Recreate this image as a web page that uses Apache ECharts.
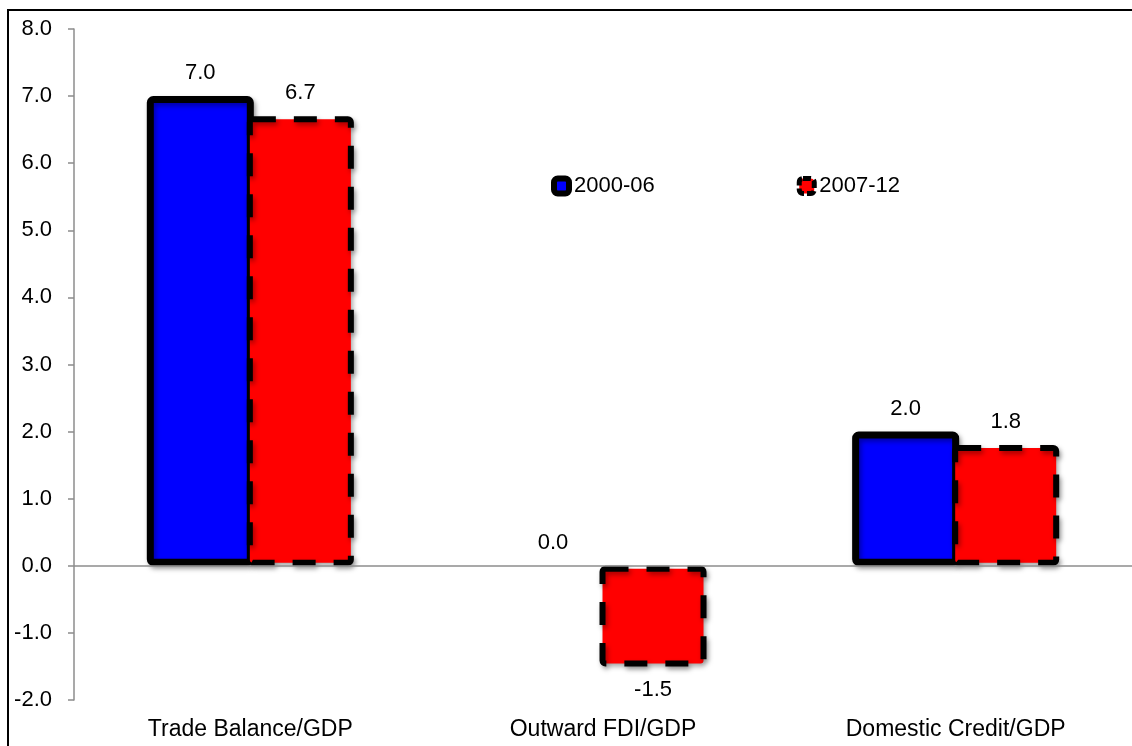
<!DOCTYPE html>
<html>
<head>
<meta charset="utf-8">
<script src="https://cdn.jsdelivr.net/npm/echarts@6/dist/echarts.min.js"></script>
<style>
html, body { margin: 0; padding: 0; background: #fff; }
#chart { width: 1132px; height: 746px; }
</style>
</head>
<body>
<div id="chart"></div>
<script>
// data
var categories = ['Trade Balance/GDP', 'Outward FDI/GDP', 'Domestic Credit/GDP'];
var seriesNames = ['2000-06', '2007-12'];
var period1 = [7.0, 0.0, 2.0];
var period2 = [6.7, -1.5, 1.8];
var yTicks = { min: -2, max: 8, step: 1 };

var font = "'Liberation Sans', Arial, sans-serif";

// negative bars get their label underneath, zero bars get no outline
function toItems(values) {
    return values.map(function (v) {
        var item = { value: v, label: { position: v < 0 ? 'bottom' : 'top' } };
        if (v === 0) item.itemStyle = { borderWidth: 0 };
        return item;
    });
}

var dom = document.getElementById('chart');
var myChart = echarts.init(dom);
var barShadow = {
    shadowColor: 'rgba(0,0,0,0.35)',
    shadowBlur: 5,
    shadowOffsetX: 2,
    shadowOffsetY: 3
};

var option = {
    animation: false,
    backgroundColor: '#fff',
    textStyle: { fontFamily: font, color: '#000' },
    graphic: [{
        type: 'rect',
        silent: true,
        shape: { x: 8, y: 10, width: 1300, height: 900 },
        style: { fill: 'none', stroke: '#000', lineWidth: 2 }
    }],
    legend: {
        left: 546,
        top: 170,
        itemWidth: 15,
        itemHeight: 15,
        itemGap: 142,
        textStyle: { fontFamily: font, fontSize: 22, color: '#000' },
        data: [
            { name: seriesNames[0], icon: 'roundRect',
              itemStyle: { color: '#0000ff', borderColor: '#000', borderWidth: 6 } },
            { name: seriesNames[1], icon: 'roundRect',
              itemStyle: { color: '#ff0000', borderColor: '#000', borderWidth: 5, borderType: [8, 3] } }
        ]
    },
    grid: { left: 74, top: 29, width: 1068, height: 671 },
    xAxis: {
        type: 'category',
        data: categories,
        axisLine: { show: false },
        axisTick: { show: false },
        axisLabel: { margin: 18, fontSize: 23, fontFamily: font, color: '#000' }
    },
    yAxis: {
        type: 'value',
        min: yTicks.min,
        max: yTicks.max,
        interval: yTicks.step,
        axisLine: { show: true, lineStyle: { color: '#8c8c8c', width: 1.5 } },
        axisTick: { show: true, length: 6, lineStyle: { color: '#8c8c8c', width: 1.5 } },
        splitLine: { show: false },
        axisLabel: {
            margin: 22, fontSize: 22, fontFamily: font, color: '#000',
            formatter: function (v) { return v.toFixed(1); }
        }
    },
    series: [
        {
            name: seriesNames[0],
            type: 'bar',
            barWidth: 107,
            barGap: '-6.5%',
            data: toItems(period1),
            itemStyle: Object.assign({
                color: '#0000ff',
                borderColor: '#000',
                borderWidth: 7,
                borderRadius: 3
            }, barShadow),
            label: {
                show: true,
                distance: 12,
                fontSize: 22,
                fontFamily: font,
                color: '#000',
                formatter: function (p) { return p.value.toFixed(1); }
            },
            markLine: {
                silent: true,
                symbol: ['none', 'none'],
                label: { show: false },
                lineStyle: { color: '#8c8c8c', width: 1.5, type: 'solid' },
                data: [{ yAxis: 0 }]
            }
        },
        {
            name: seriesNames[1],
            type: 'bar',
            barWidth: 107,
            barGap: '-6.5%',
            data: toItems(period2),
            itemStyle: Object.assign({
                color: '#ff0000',
                borderColor: '#000',
                borderWidth: 6,
                borderType: [23, 18],
                borderRadius: 3
            }, barShadow),
            label: {
                show: true,
                distance: 12,
                fontSize: 22,
                fontFamily: font,
                color: '#000',
                formatter: function (p) { return p.value.toFixed(1); }
            }
        }
    ]
};

if (option && typeof option === 'object') {
    myChart.setOption(option, true);
}
</script>
</body>
</html>
